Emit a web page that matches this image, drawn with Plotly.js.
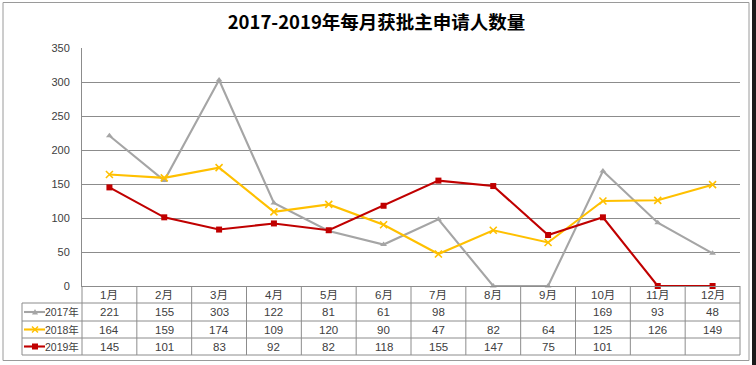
<!DOCTYPE html>
<html>
<head>
<meta charset="utf-8">
<script src="https://cdn.plot.ly/plotly-3.0.1.min.js"></script>
<style>html,body{margin:0;padding:0;background:#fff;}#chart{width:756px;height:365px;}</style>
</head>
<body>
<div id="chart"></div>
<script>
// ---- data ----
const months = ['1月','2月','3月','4月','5月','6月','7月','8月','9月','10月','11月','12月'];
const seriesNames = ['2017年','2018年','2019年'];
const y2017 = [221,155,303,122,81,61,98,null,null,169,93,48];
const y2018 = [164,159,174,109,120,90,47,82,64,125,126,149];
const y2019 = [145,101,83,92,82,118,155,147,75,101,null,null];
const yTicks = [0,50,100,150,200,250,300,350];

// ---- styles ----
const colors = ['#A5A5A5','#FFC000','#C00000'];
const symbols = ['triangle-up','x-thin','square'];
const seriesData = [y2017,y2018,y2019];
const textFont = {family:'Liberation Sans, Noto Sans CJK SC, sans-serif', size:11.5, color:'#404040'};
const keyFont = {family:'Liberation Sans, Noto Sans CJK SC, sans-serif', size:10.5, color:'#404040'};
const gridColor = '#8C8C8C';

// plot-area pixel geometry
const L=82, R=740, T=48, B=286, W=756, H=365;
const px = x => (x-L)/(R-L);
const py = y => (B-y)/(B-T);
const rowEdges = [286,303,321,338,355];
const legendLeft = 22;

// Excel plots blank cells as zero
const traces = seriesData.map((arr,i)=>({
  type:'scatter', mode:'lines+markers', x:months, y:arr.map(v=>v==null?0:v),
  name:seriesNames[i], cliponaxis:false,
  line:{color:colors[i], width:2.1},
  marker:{symbol:symbols[i], size: i===1?7:6, color:colors[i], line:{color:colors[i], width: i===1?1.6:0}},
  hoverinfo:'skip'
}));

const shapes = [];
const annotations = [];
const n = months.length;
const colEdge = k => k/n; // boundaries of category bands in paper coords

// outer chart border
shapes.push({type:'rect', xref:'paper', yref:'paper', x0:px(3), x1:px(749), y0:py(2.5), y1:py(360.5), line:{color:'#9A9A9A', width:1}, layer:'below'});
// dark edge strip at far right
shapes.push({type:'rect', xref:'paper', yref:'paper', x0:px(752), x1:px(757), y0:py(0), y1:py(366), line:{width:0}, fillcolor:'#1a1a1a'});

// table horizontal lines
for (let r=1;r<rowEdges.length;r++){
  shapes.push({type:'line', xref:'paper', yref:'paper', x0:px(legendLeft), x1:1, y0:py(rowEdges[r]), y1:py(rowEdges[r]), line:{color:gridColor,width:1}});
}
// table vertical lines
for (let k=0;k<=n;k++){
  shapes.push({type:'line', xref:'paper', yref:'paper', x0:colEdge(k), x1:colEdge(k), y0:py(rowEdges[0]), y1:py(rowEdges[4]), line:{color:gridColor,width:1}});
}
shapes.push({type:'line', xref:'paper', yref:'paper', x0:px(legendLeft), x1:px(legendLeft), y0:py(rowEdges[1]), y1:py(rowEdges[4]), line:{color:gridColor,width:1}});

// header month labels
months.forEach((m,i)=>{
  annotations.push({xref:'x', yref:'paper', x:m, y:py((rowEdges[0]+rowEdges[1])/2), text:m, showarrow:false, font:textFont, xanchor:'center', yanchor:'middle'});
});
// data rows + legend keys
seriesData.forEach((arr,s)=>{
  const cy = (rowEdges[s+1]+rowEdges[s+2])/2;
  arr.forEach((v,i)=>{
    if (v==null) return;
    annotations.push({xref:'x', yref:'paper', x:months[i], y:py(cy), text:String(v), showarrow:false, font:textFont, xanchor:'center', yanchor:'middle'});
  });
  annotations.push({xref:'paper', yref:'paper', x:px(81), y:py(cy), text:seriesNames[s], showarrow:false, font:keyFont, xanchor:'right', yanchor:'middle'});
  // key line
  shapes.push({type:'line', xref:'paper', yref:'paper', x0:px(24), x1:px(45), y0:py(cy), y1:py(cy), line:{color:colors[s], width:2.1}});
  const mx=35, my=cy;
  if (s===0){
    shapes.push({type:'path', xref:'paper', yref:'paper', path:`M ${px(mx-3)} ${py(my+2.5)} L ${px(mx+3)} ${py(my+2.5)} L ${px(mx)} ${py(my-3)} Z`, fillcolor:colors[s], line:{width:0}});
  } else if (s===1){
    shapes.push({type:'line', xref:'paper', yref:'paper', x0:px(mx-3), x1:px(mx+3), y0:py(my-3), y1:py(my+3), line:{color:colors[s], width:1.5}});
    shapes.push({type:'line', xref:'paper', yref:'paper', x0:px(mx-3), x1:px(mx+3), y0:py(my+3), y1:py(my-3), line:{color:colors[s], width:1.5}});
  } else {
    shapes.push({type:'rect', xref:'paper', yref:'paper', x0:px(mx-3), x1:px(mx+3), y0:py(my-3), y1:py(my+3), fillcolor:colors[s], line:{width:0}});
  }
});

const layout = {
  width:W, height:H,
  margin:{l:L, r:W-R, t:T, b:H-B, pad:0},
  paper_bgcolor:'#fff', plot_bgcolor:'#fff',
  showlegend:false,
  title:{text:'<b>2017-2019年每月获批主申请人数量</b>', x:376.5/W, xref:'container', xanchor:'center', y:1-23/H, yref:'container', yanchor:'middle',
    font:{family:'Noto Sans CJK SC, sans-serif', size:18.5, color:'#000'}},
  xaxis:{type:'category', range:[-0.5, n-0.5], showticklabels:false, ticks:'', showgrid:false, zeroline:false,
    showline:true, linecolor:gridColor, linewidth:1, fixedrange:true},
  yaxis:{range:[0,350], tickvals:yTicks, ticktext:yTicks.map(String), showgrid:true, gridcolor:gridColor, gridwidth:1,
    zeroline:false, showline:true, linecolor:gridColor, linewidth:1, ticks:'', ticklabelstandoff:9,
    tickfont:{family:'Liberation Sans, sans-serif', size:11, color:'#404040'}, fixedrange:true},
  shapes:shapes, annotations:annotations
};

Plotly.newPlot('chart', traces, layout, {staticPlot:true, displayModeBar:false});
</script>
</body>
</html>
